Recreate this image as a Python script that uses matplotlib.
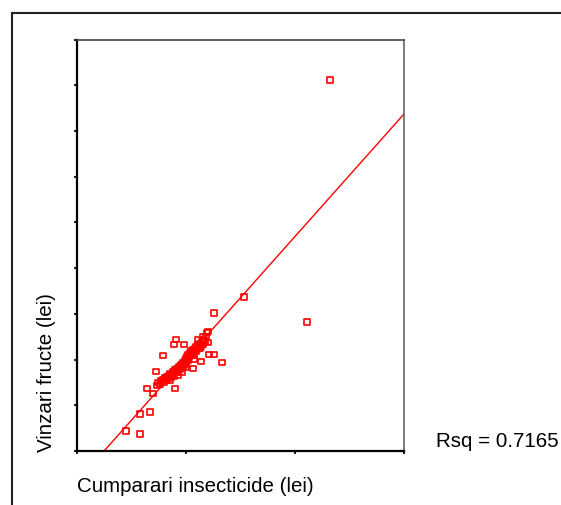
import matplotlib
matplotlib.use("Agg")
import matplotlib.pyplot as plt
from matplotlib.patches import Rectangle
import numpy as np

plt.rcParams['font.family'] = ['Liberation Sans', 'DejaVu Sans']

# Data (units: lei)
cumparari = [
    232.1, 211.0, 153.2, 125.7, 133.0, 45.0, 57.8, 57.8, 67.0, 64.2, 69.7, 89.9,
    72.5, 78.9, 90.8, 89.0, 98.2, 125.7, 121.1, 113.8, 106.4, 120.2, 115.6, 120.2,
    112.8, 117.4, 111.0,
    73.4, 74.3, 76.1, 77.1, 78.9, 79.8, 80.7, 81.7, 82.6, 83.5, 84.4, 85.3, 86.2,
    87.2, 88.1, 89.0, 89.9, 90.8, 91.7, 92.7, 93.6, 94.5, 95.4, 96.3, 97.2, 98.2,
    99.1, 100.0, 100.0, 100.9, 101.8, 101.8, 102.8, 103.7, 103.7, 104.6, 104.6,
    105.5, 106.4, 106.4, 107.3, 108.3, 109.2, 109.2, 110.1, 111.0, 111.9, 112.8,
    113.8, 114.7, 115.6, 116.5, 118.3, 119.3, 96.3, 92.7, 85.3, 100.0, 107.3,
]
vinzari = [
    810.9, 282.6, 337.0, 302.2, 193.5, 43.5, 37.0, 80.4, 84.8, 137.0, 126.1, 137.0,
    173.9, 208.7, 243.5, 232.6, 232.6, 210.9, 210.9, 195.7, 180.4, 260.9, 250.0, 237.0,
    223.9, 239.1, 243.5,
    143.5, 150.0, 145.7, 154.3, 156.5, 150.0, 160.9, 154.3, 163.0, 158.7, 165.2, 169.6, 160.9,
    167.4, 173.9, 163.0, 178.3, 171.7, 180.4, 173.9, 184.8, 178.3, 189.1, 182.6, 193.5, 187.0,
    197.8, 191.3, 202.2, 206.5, 197.8, 210.9, 204.3, 215.2, 208.7, 219.6, 210.9,
    213.0, 221.7, 215.2, 208.7, 223.9, 217.4, 228.3, 221.7, 232.6, 226.1, 234.8,
    228.3, 239.1, 232.6, 243.5, 250.0, 258.7, 171.7, 165.2, 154.3, 182.6, 200.0,
]

# Fitted line
fit_intercept = -66.4
fit_slope = 2.678
rsq_text = "Rsq = 0.7165"

x_ticks = [0, 100, 200, 300]
y_ticks = [0, 100, 200, 300, 400, 500, 600, 700, 800, 900]

fig = plt.figure(figsize=(5.61, 5.06), dpi=100)
W, H = 561, 506

# outer frame (cropped at right and bottom)
fig.patches.append(Rectangle((11.5 / W, -0.1), 1.2, 1 - 13.5 / H + 0.1,
                             transform=fig.transFigure, fill=False,
                             edgecolor='#222222', linewidth=1.5))

ax = fig.add_axes([77 / W, (H - 452) / H, (404 - 77) / W, (452 - 40.5) / H])
ax.set_xlim(0, 300)
ax.set_ylim(0, 900)

xx = np.array([0, 300])
ax.plot(xx, fit_intercept + fit_slope * xx, color='#ff0000', linewidth=1.0, zorder=2)
ax.scatter(cumparari, vinzari, marker='s', s=16, facecolors='none',
           edgecolors='#ff0000', linewidths=1.2, zorder=3)

ax.set_xticks(x_ticks)
ax.set_yticks(y_ticks)
ax.set_xticklabels([])
ax.set_yticklabels([])
ax.tick_params(direction='out', length=2, width=1.5, color='#222222')
for s in ['left', 'bottom']:
    ax.spines[s].set_color('black')
    ax.spines[s].set_linewidth(1.6)
ax.spines['top'].set_color('#444444')
ax.spines['top'].set_linewidth(1.2)
ax.spines['right'].set_color('#666666')
ax.spines['right'].set_linewidth(1.2)

fs = 14.8
fig.text(77 / W, 1 - 487 / H, "Cumparari insecticide (lei)", fontsize=fs,
         ha='left', va='center')
fig.text(47 / W, (H - 452) / H, "Vinzari fructe (lei)", fontsize=fs,
         rotation=90, ha='center', va='bottom')
fig.text(436 / W, 1 - 442 / H, rsq_text, fontsize=fs, ha='left', va='center')

fig.savefig("out.png", dpi=100)
